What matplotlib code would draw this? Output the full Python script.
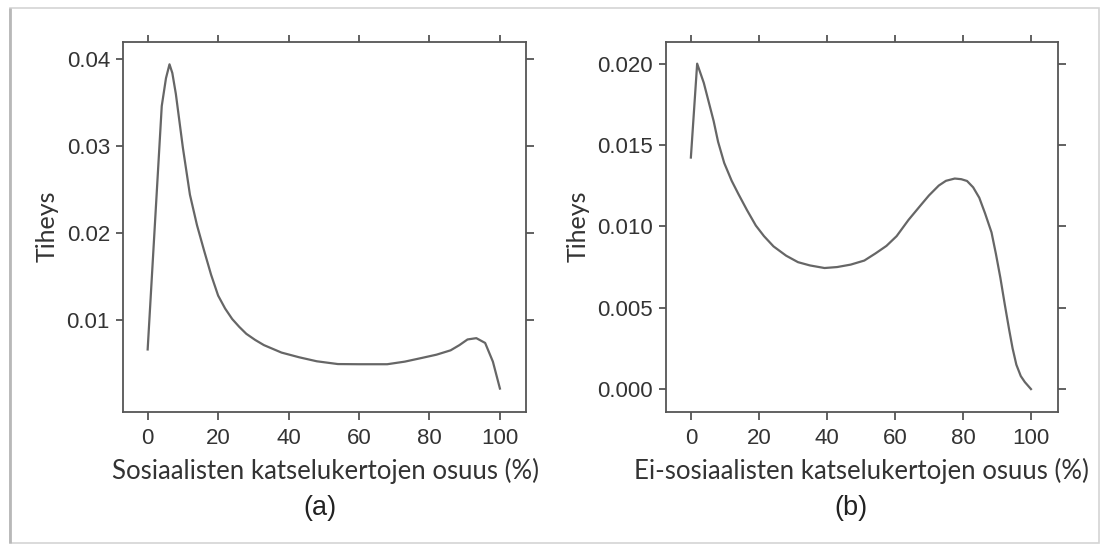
import matplotlib
matplotlib.use("Agg")
import matplotlib.pyplot as plt
from matplotlib.patches import Rectangle

# --- data ---
x_a = [0, 4, 5.2, 6.2, 7, 8, 10, 12, 14, 16, 18, 20, 22, 24, 26, 28, 30.5, 33, 38, 43, 48, 54, 60, 68, 73, 78, 82, 86, 88.5, 90.8, 93.3, 95.8, 98, 100]
y_a = [0.0066, 0.0346, 0.0378, 0.0394, 0.0384, 0.0360, 0.0298, 0.0244, 0.0209, 0.0180, 0.0152, 0.0128, 0.0113, 0.0101, 0.0092, 0.0084, 0.0077, 0.0071, 0.00624, 0.0057, 0.00524, 0.00492, 0.0049, 0.0049, 0.0052, 0.00564, 0.0060, 0.00650, 0.0071, 0.00775, 0.0079, 0.00735, 0.0052, 0.0021]

x_b = [0, 1.85, 3.8, 6.7, 8, 9.8, 12, 14, 16.5, 19.1, 21.5, 24.3, 28, 31.5, 35, 39.3, 43, 47, 51, 54.3, 57.5, 60.5, 64, 67.7, 70, 72.9, 75, 77.6, 79.5, 81.2, 83, 84.8, 86.5, 88.4, 89.7, 91, 92.3, 93.6, 94.6, 95.7, 97, 98.2, 100]
y_b = [0.01423, 0.0200, 0.01882, 0.01647, 0.0152, 0.0139, 0.0128, 0.01198, 0.0110, 0.01005, 0.0094, 0.00877, 0.0082, 0.0078, 0.0076, 0.00744, 0.0075, 0.00765, 0.0079, 0.00834, 0.0088, 0.0094, 0.0104, 0.01133, 0.0119, 0.01251, 0.0128, 0.01294, 0.0129, 0.01279, 0.0124, 0.01176, 0.0108, 0.00963, 0.0083, 0.00684, 0.0052, 0.00363, 0.0025, 0.0015, 0.0008, 0.00043, 0.0]

xticks = [0, 20, 40, 60, 80, 100]
yticks_a = [0.01, 0.02, 0.03, 0.04]
ylabels_a = ["0.01", "0.02", "0.03", "0.04"]
yticks_b = [0.000, 0.005, 0.010, 0.015, 0.020]
ylabels_b = ["0.000", "0.005", "0.010", "0.015", "0.020"]

xlabel_a = "Sosiaalisten katselukertojen osuus (%)"
xlabel_b = "Ei-sosiaalisten katselukertojen osuus (%)"
ylabel = "Tiheys"

W, H = 1104, 546
fig = plt.figure(figsize=(W / 100, H / 100), dpi=100)
fig.patch.set_facecolor("white")

# outer screenshot frame
fig.patches.append(Rectangle((10 / W, 1 - 543 / H), (1099 - 10) / W, (543 - 8) / H,
                             transform=fig.transFigure, fill=False,
                             edgecolor="#d4d4d4", linewidth=1.2))
fig.patches.append(Rectangle((10 / W, 1 - 543 / H), 0.0, (543 - 8) / H,
                             transform=fig.transFigure, fill=False,
                             edgecolor="#b8b8b8", linewidth=2.0))

line_col = "#666666"
spine_col = "#555555"
tick_font = "Liberation Sans"
lab_font = "Lato"
text_col = "#333333"


def px_axes(l, t, r, b):
    return fig.add_axes([l / W, 1 - b / H, (r - l) / W, (b - t) / H])


def style(ax, yt, yl):
    for s in ax.spines.values():
        s.set_color(spine_col)
        s.set_linewidth(1.3)
    ax.set_xticks(xticks)
    ax.set_xticklabels([str(v) for v in xticks])
    ax.set_yticks(yt)
    ax.set_yticklabels(yl)
    ax.tick_params(axis="both", direction="out", length=5.4, width=1.3, color=spine_col,
                   labelsize=16, labelcolor=text_col,
                   top=True, right=True, labeltop=False, labelright=False)
    ax.tick_params(axis="y", pad=4)
    ax.tick_params(axis="x", pad=6)
    for lab in ax.get_xticklabels() + ax.get_yticklabels():
        lab.set_fontfamily(tick_font)


ax1 = px_axes(123, 41.7, 526, 411.7)
ax1.plot(x_a, y_a, color=line_col, linewidth=1.6, solid_joinstyle="round")
ax1.set_xlim(-7.0, 107.4)
ax1.set_ylim(-0.00056, 0.0420)
style(ax1, yticks_a, ylabels_a)

ax2 = px_axes(665.7, 41.7, 1057.5, 411.7)
ax2.plot(x_b, y_b, color=line_col, linewidth=1.6, solid_joinstyle="round")
ax2.set_xlim(-7.4, 107.8)
ax2.set_ylim(-0.00139, 0.02135)
style(ax2, yticks_b, ylabels_b)

# axis labels
fig.text(325 / W, 1 - 471 / H, xlabel_a, ha="center", va="center",
         fontsize=18.5, family=lab_font, color=text_col)
fig.text(861 / W, 1 - 471 / H, xlabel_b, ha="center", va="center",
         fontsize=18.5, family=lab_font, color=text_col)
fig.text(47.4 / W, 1 - 226 / H, ylabel, ha="center", va="center", rotation=90,
         fontsize=18, family=lab_font, color=text_col)
fig.text(578.4 / W, 1 - 226 / H, ylabel, ha="center", va="center", rotation=90,
         fontsize=18, family=lab_font, color=text_col)
fig.text(320 / W, 1 - 508 / H, "(a)", ha="center", va="center",
         fontsize=19.5, family=tick_font, color="#222222")
fig.text(850.7 / W, 1 - 508 / H, "(b)", ha="center", va="center",
         fontsize=19.5, family=tick_font, color="#222222")

fig.savefig("out.png", dpi=100, facecolor="white")
